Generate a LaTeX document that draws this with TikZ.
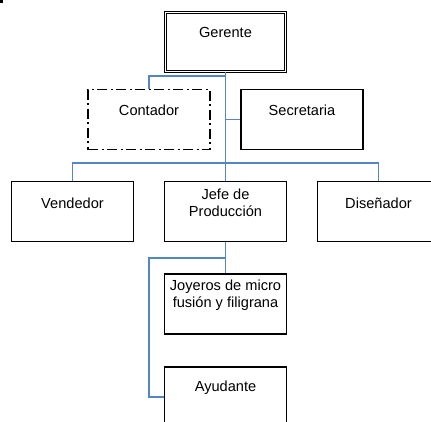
\documentclass[tikz,border=0pt]{standalone}
\usepackage{fontspec}
\setmainfont{Liberation Sans}
\definecolor{linkblue}{RGB}{84,133,196}
\begin{document}
\begin{tikzpicture}[x=1pt,y=-1pt,
  box/.style={draw=black,line width=1.2pt,minimum width=122pt,minimum height=60pt,inner sep=0pt},
  dbox/.style={draw=black,line width=1.1pt,double=white,double distance=1.5pt,minimum width=120pt,minimum height=59pt,inner sep=0pt},
  dashdotbox/.style={box,dash pattern=on 10pt off 3.5pt on 2pt off 3.5pt},
  lbl/.style={font=\fontsize{14.6}{16.8}\selectfont,align=center,inner sep=0pt},
  link/.style={draw=linkblue,line width=1.4pt}]
\useasboundingbox (0,0) rectangle (431,421);
\clip (0,0) rectangle (431,421);
\fill[black] (0,0) rectangle (3,3);
% boxes
\node[dbox] (g) at (225.5,42) {};
\node[dashdotbox] (cont) at (149,119.5) {};
\node[box] (sec) at (302,119.5) {};
\node[box] (vend) at (72.5,211.5) {};
\node[box] (jefe) at (225.5,211.5) {};
\node[box] (dis) at (378.5,211.5) {};
\node[box] (joy) at (225.5,304) {};
\node[box] (ayu) at (225.5,397) {};
% labels
\node[lbl] (tg) at ([yshift=-21pt]g.north) {Gerente};
\node[lbl] (tcont) at ([yshift=-21pt]cont.north) {Contador};
\node[lbl] (tsec) at ([yshift=-21pt]sec.north) {Secretaria};
\node[lbl] (tvend) at ([yshift=-22pt]vend.north) {Vendedor};
\node[lbl] (tjefe) at ([yshift=-22pt]jefe.north) {Jefe de\\Producción};
\node[lbl] (tdis) at ([yshift=-22pt]dis.north) {Diseñador};
\node[lbl] (tjoy) at ([yshift=-22pt]joy.north) {Joyeros de micro\\fusión y filigrana};
\node[lbl] (tayu) at ([yshift=-21pt]ayu.north) {Ayudante};
% junctions
\coordinate (j1) at (225.5,76);
\coordinate (j2) at (225.5,163);
\coordinate (j3) at (225.5,258);
\coordinate (j4) at (149,258);
% connectors
\draw[link] (g.south) -- (jefe.north);
\draw[link] (j1) -| (cont.north);
\draw[link] (j1 |- sec.west) -- (sec.west);
\draw[link] (vend.north) |- (j2) -| (dis.north);
\draw[link] (jefe.south) -- (joy.north);
\draw[link] (j3) -- (j4) |- (ayu.west);
\end{tikzpicture}
\end{document}
